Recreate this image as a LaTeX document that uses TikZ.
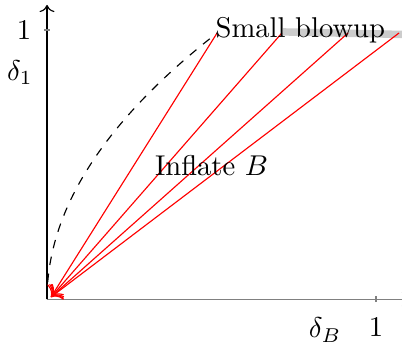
\documentclass[tikz,border=0pt]{standalone}
\usepackage{amsmath}
\usepackage{xcolor}
\usetikzlibrary{arrows.meta}
\begin{document}
\begin{tikzpicture}[x=115pt,y=94.1pt]
    \useasboundingbox (-0.1429,-0.1636) rectangle (1.079,1.1115);
    \coordinate (O) at (0,0); \coordinate (T) at (0.012,0.008);
    \coordinate (X) at (1.1,0); \coordinate (Y) at (0,1.093);
    \draw[line width=2.6pt, gray!40] (0.717,0.993) -- (1.1,0.983);
    \draw[gray,->] (O) -- (X);
    \draw[->] (O) -- (Y);
    \draw[gray] (-0.009,1) -- (0.009,1);
    \draw[gray] (1,-0.011) -- (1,0.011);
    \foreach \x [count=\i] in {0.517,0.714,0.915,1.07}
    {\coordinate (s\i) at (\x,0.989); \draw[red,-{To[scale=1.3]}] (s\i) -- (T);}
    \draw[dashed] (O) .. controls (0,0.33) and (0.172,0.66) .. (s1);
    \node[left=2pt] (one1) at (0,1)
    {$1$}; \node[left=1.5pt] (d1) at (0,0.842)
    {$\delta_1$}; \node[below=3pt] (dB) at (0.845,0)
    {$\delta_B$}; \node[below=3pt] (oneB) at (1,0)
    {$1$}; \node (blow) at (0.77,1)
    {Small blowup}; \node (infl) at (0.5,0.495)
    {Inflate $B$};
  \end{tikzpicture}
\end{document}
